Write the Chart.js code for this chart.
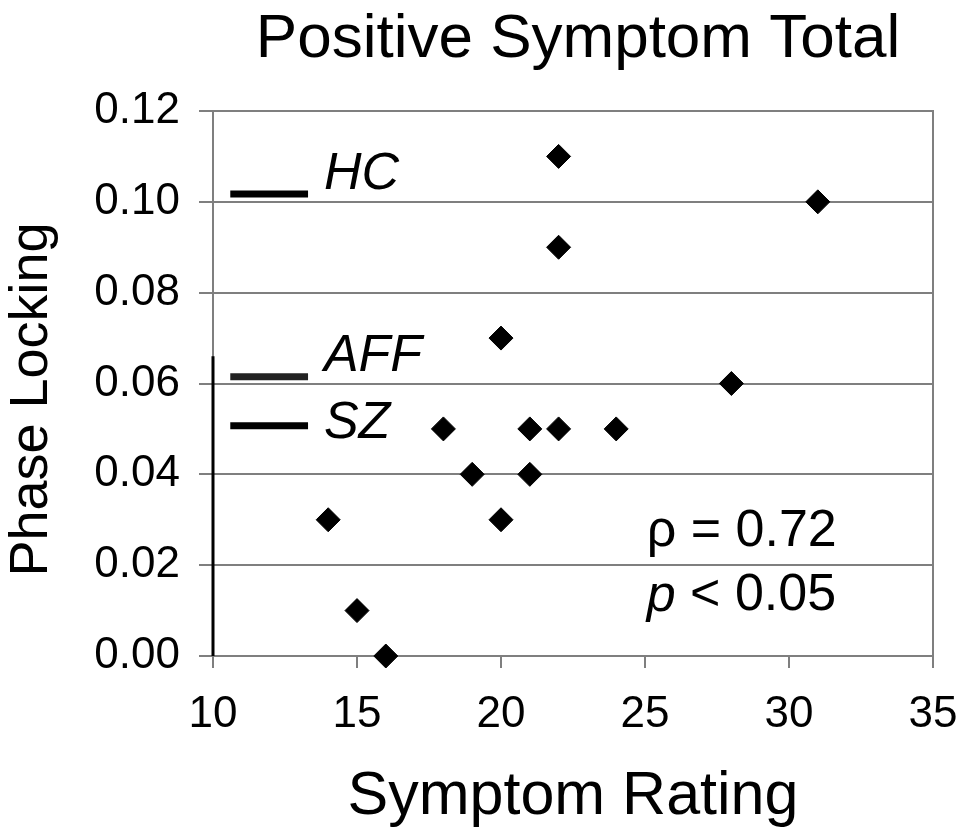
<!DOCTYPE html>
<html>
<head>
<meta charset="utf-8">
<script src="https://cdn.jsdelivr.net/npm/chart.js@4/dist/chart.umd.min.js"></script>
<style>
  html, body { margin: 0; padding: 0; background: #fff; }
  canvas { display: block; }
</style>
</head>
<body>
<canvas id="c" width="963" height="834"></canvas>
<script>
// ---- data ----
const ratings = [22, 31, 22, 20, 28, 18, 21, 22, 24, 19, 21, 14, 20, 15, 16];
const phaseLocking = [0.11, 0.10, 0.09, 0.07, 0.06, 0.05, 0.05, 0.05, 0.05, 0.04, 0.04, 0.03, 0.03, 0.01, 0.00];
const groupNames = ['HC', 'AFF', 'SZ'];
const groupMeans = [0.1017, 0.0615, 0.0507];
const groupSegment = [10.6, 13.3];          // x-extent of the group mean marks
const groupLabelAnchor = [13.85, 0.1061, 0.066, 0.0511]; // x, then y per group
const axisSegment = [0, 0.066];             // darker left axis segment (y range)
const xTicks = [10, 15, 20, 25, 30, 35];
const yTicks = [0.00, 0.02, 0.04, 0.06, 0.08, 0.10, 0.12];
const statsText = ['\u03c1 = 0.72', '< 0.05'];
const statsAnchor = [25.06, 0.0273, 0.0132];
const chartTitle = 'Positive Symptom Total';
const yTitle = 'Phase Locking';

const FONT = "'Liberation Sans', Arial, Helvetica, sans-serif";
const GRID = '#7f7f7f';

const points = ratings.map((x, i) => ({ x, y: phaseLocking[i] }));
const groupSets = groupNames.map((n, i) => ({
  type: 'line',
  label: n,
  data: [{ x: groupSegment[0], y: groupMeans[i] }, { x: groupSegment[1], y: groupMeans[i] }],
  borderColor: i === 1 ? '#222' : '#000',
  borderWidth: 7,
  pointRadius: 0,
  clip: false
}));

const textPlugin = {
  id: 'texts',
  afterDatasetsDraw(chart) {
    const ctx = chart.ctx;
    const xs = chart.scales.x, ys = chart.scales.y;
    const ca = chart.chartArea;
    ctx.save();
    ctx.fillStyle = '#000';
    ctx.textBaseline = 'middle';
    // chart title, centred over the plot area
    ctx.textAlign = 'center';
    ctx.font = '62px ' + FONT;
    ctx.fillText(chartTitle, (ca.left + ca.right) / 2 + 5, 40);
    ctx.textAlign = 'left';
    ctx.font = 'italic 52px ' + FONT;
    groupNames.forEach((n, i) => {
      ctx.fillText(n, xs.getPixelForValue(groupLabelAnchor[0]), ys.getPixelForValue(groupLabelAnchor[i + 1]));
    });
    const sx = xs.getPixelForValue(statsAnchor[0]);
    ctx.font = '52px ' + FONT;
    ctx.fillText(statsText[0], sx, ys.getPixelForValue(statsAnchor[1]));
    ctx.font = 'italic 52px ' + FONT;
    const pw = ctx.measureText('p ').width;
    ctx.fillText('p', sx, ys.getPixelForValue(statsAnchor[2]));
    ctx.font = '52px ' + FONT;
    ctx.fillText(statsText[1], sx + pw, ys.getPixelForValue(statsAnchor[2]));
    // rotated y-axis title
    ctx.save();
    ctx.translate(32, (ca.top + ca.bottom) / 2 + 16);
    ctx.rotate(-Math.PI / 2);
    ctx.textAlign = 'center';
    ctx.font = '54px ' + FONT;
    ctx.fillText(yTitle, 0, 0);
    ctx.restore();
    ctx.restore();
  }
};

new Chart(document.getElementById('c'), {
  type: 'scatter',
  data: {
    datasets: [
      {
        label: 'Subjects',
        data: points,
        pointStyle: 'rectRot',
        pointRadius: 12,
        pointBackgroundColor: '#000',
        pointBorderColor: '#000',
        pointBorderWidth: 1,
        clip: false
      },
      ...groupSets,
      {
        type: 'line',
        label: 'axis',
        data: [{ x: xTicks[0], y: axisSegment[0] }, { x: xTicks[0], y: axisSegment[1] }],
        borderColor: '#000',
        borderWidth: 3,
        pointRadius: 0,
        clip: false
      }
    ]
  },
  options: {
    responsive: false,
    devicePixelRatio: 1,
    animation: false,
    layout: { padding: { left: 0, right: 30, top: 111, bottom: 0 } },
    plugins: {
      legend: { display: false },
      tooltip: { enabled: false },
      title: { display: false }
    },
    scales: {
      x: {
        type: 'linear',
        min: 10, max: 35,
        afterBuildTicks: s => { s.ticks = xTicks.map(v => ({ value: v })); },
        afterFit: s => { s.height = 178; s.paddingLeft = 0; s.paddingRight = 0; },
        ticks: { color: '#000', font: { family: FONT, size: 44 }, padding: 20, maxRotation: 0 },
        grid: { drawOnChartArea: false, drawTicks: true, tickLength: 12, color: GRID, lineWidth: 2 },
        border: { display: true, color: GRID, width: 2 },
        title: {
          display: true, text: 'Symptom Rating', color: '#000',
          font: { family: FONT, size: 61, lineHeight: 1.2 },
          padding: { top: 4, bottom: 0 }
        }
      },
      y: {
        type: 'linear',
        min: 0, max: 0.12,
        afterBuildTicks: s => { s.ticks = yTicks.map(v => ({ value: v })); },
        afterFit: s => { s.width = 213; s.paddingTop = 0; s.paddingBottom = 0; },
        ticks: { color: '#000', font: { family: FONT, size: 44 }, padding: 19, callback: v => v.toFixed(2) },
        grid: { drawOnChartArea: true, drawTicks: true, tickLength: 14, color: GRID, lineWidth: 2 },
        border: { display: true, color: GRID, width: 2 },
        title: { display: false }
      },
      y2: {
        type: 'linear',
        position: 'right',
        min: 0, max: 0.12,
        afterFit: s => { s.width = 0; s.paddingTop = 0; s.paddingBottom = 0; },
        ticks: { display: false },
        grid: { display: false, drawTicks: false },
        border: { display: true, color: GRID, width: 2 }
      }
    }
  },
  plugins: [textPlugin]
});
</script>
</body>
</html>
